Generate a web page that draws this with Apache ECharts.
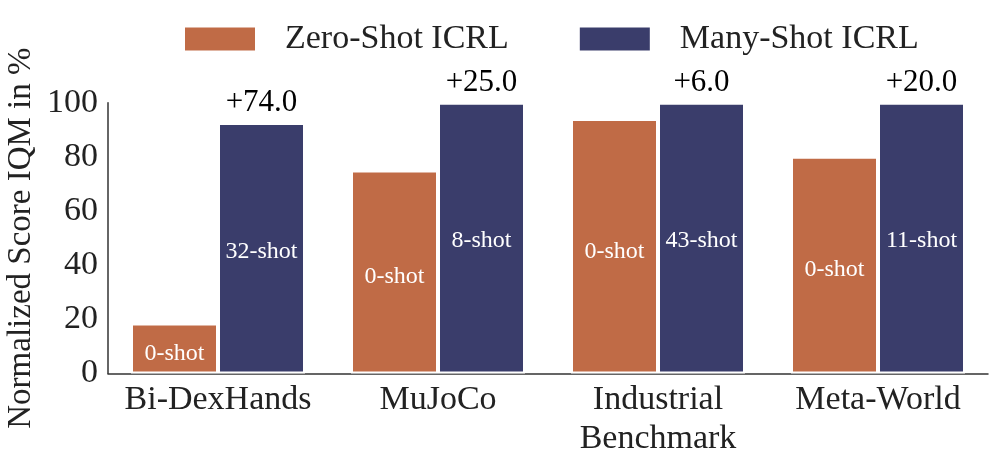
<!DOCTYPE html>
<html>
<head>
<meta charset="utf-8">
<script src="https://cdn.jsdelivr.net/npm/echarts@6/dist/echarts.min.js"></script>
<style>
html,body{margin:0;padding:0;background:#fff;}
#chart{width:997px;height:468px;}
</style>
</head>
<body>
<div id="chart"></div>
<script>
const categories = ['Bi-DexHands', 'MuJoCo', 'Industrial\nBenchmark', 'Meta-World'];
const zeroShot = [18.5, 75, 94, 80];
const manyShot = [92.5, 100, 100, 100];
const zeroLabels = ['0-shot', '0-shot', '0-shot', '0-shot'];
const manyLabels = ['32-shot', '8-shot', '43-shot', '11-shot'];
const gains = ['+74.0', '+25.0', '+6.0', '+20.0'];
const yTicks = [0, 20, 40, 60, 80, 100];

const FONT = 'Liberation Serif';
const chart = echarts.init(document.getElementById('chart'), null, {renderer: 'canvas'});

chart.setOption({
  animation: false,
  backgroundColor: '#fff',
  textStyle: {fontFamily: FONT},
  legend: {
    left: 178,
    top: 17,
    itemWidth: 72,
    itemHeight: 25,
    itemGap: 69,
    icon: 'rect',
    textStyle: {fontFamily: FONT, fontSize: 34, color: '#222', padding: [0, 0, 0, 24]},
    data: ['Zero-Shot ICRL', 'Many-Shot ICRL']
  },
  grid: {left: 108, right: 9, top: 102.7, bottom: 94.5, containLabel: false, outerBoundsMode: 'none'},
  xAxis: {
    type: 'category',
    data: categories,
    axisLine: {lineStyle: {color: '#333', width: 1.5}},
    axisTick: {show: false},
    axisLabel: {fontFamily: FONT, fontSize: 34, color: '#222', margin: 7, lineHeight: 39, interval: 0}
  },
  yAxis: {
    type: 'value',
    min: 0,
    max: 100,
    interval: 20,
    name: 'Normalized Score IQM in %',
    nameLocation: 'middle',
    nameGap: 70,
    nameMoveOverlap: false,
    nameTextStyle: {fontFamily: FONT, fontSize: 33, color: '#222'},
    axisLine: {show: true, lineStyle: {color: '#333', width: 1.5}},
    axisTick: {show: false},
    splitLine: {show: false},
    axisLabel: {
      fontFamily: FONT, fontSize: 34, color: '#222', margin: 10,
      formatter: v => yTicks.includes(v) ? String(v) : ''
    }
  },
  series: [
    {
      name: 'Zero-Shot ICRL',
      type: 'bar',
      data: zeroShot,
      barWidth: 87,
      barGap: '0%',
      itemStyle: {color: '#C06B46', borderColor: '#fff', borderWidth: 2},
      label: {
        show: true, position: 'inside', offset: [0, 5],
        fontFamily: FONT, fontSize: 24, color: '#fff',
        formatter: p => zeroLabels[p.dataIndex]
      }
    },
    {
      name: 'Many-Shot ICRL',
      type: 'bar',
      data: manyShot,
      barWidth: 87,
      itemStyle: {color: '#3A3D6B', borderColor: '#fff', borderWidth: 2},
      label: {
        show: true, position: 'inside', offset: [0, 3],
        fontFamily: FONT, fontSize: 24, color: '#fff',
        formatter: p => manyLabels[p.dataIndex]
      },
      markPoint: {
        symbol: 'circle',
        symbolSize: 1,
        itemStyle: {color: 'rgba(0,0,0,0)'},
        label: {
          show: true, position: 'top', distance: 4,
          fontFamily: FONT, fontSize: 31, color: '#000',
          formatter: p => gains[p.dataIndex]
        },
        data: manyShot.map((v, i) => ({coord: [i, v]}))
      }
    }
  ]
});
</script>
</body>
</html>
